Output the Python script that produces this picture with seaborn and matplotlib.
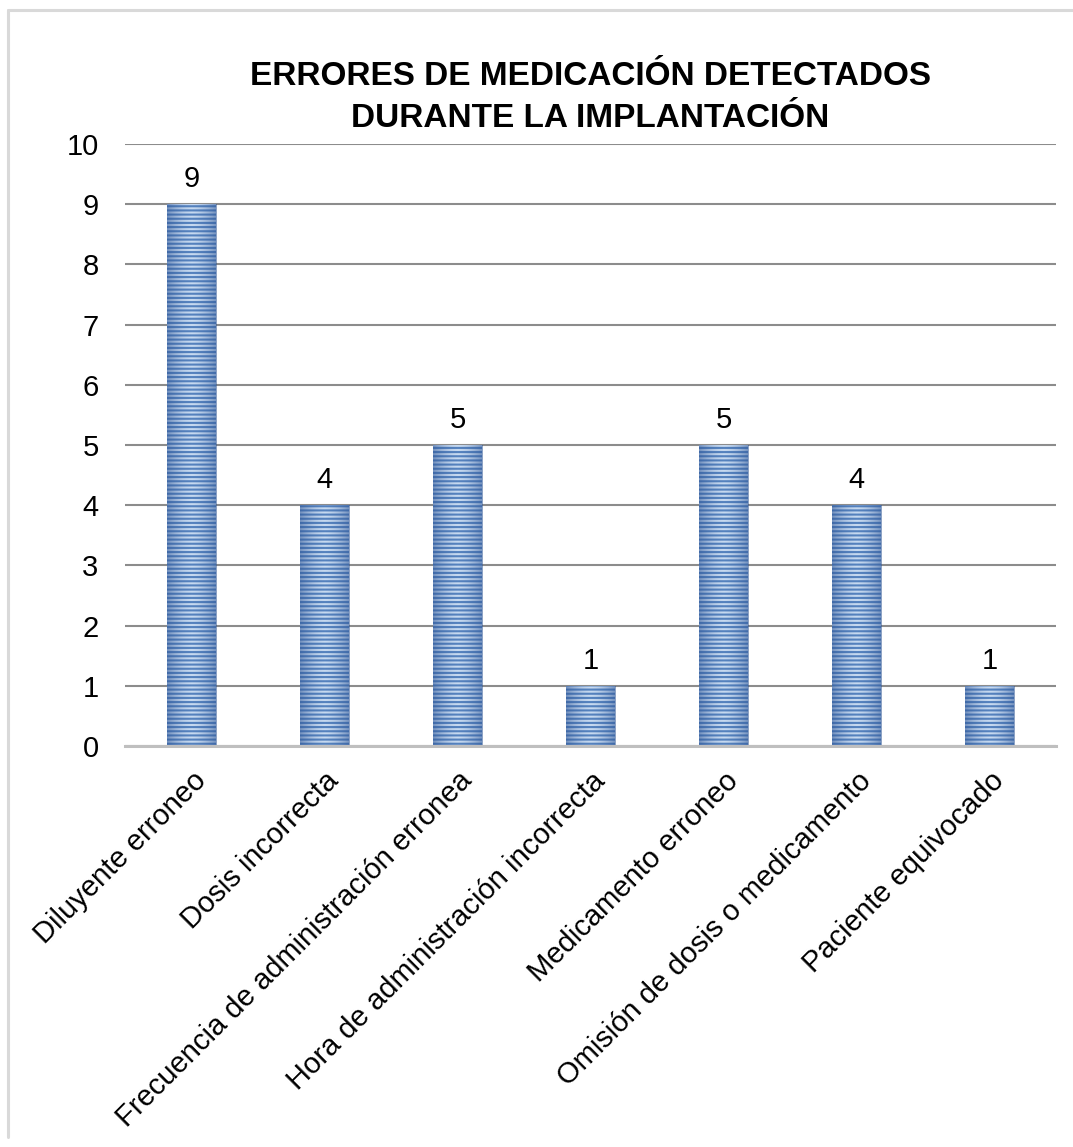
import numpy as np
import pandas as pd
import matplotlib
matplotlib.use("Agg")
import matplotlib.pyplot as plt
import matplotlib.transforms as mtransforms
from matplotlib.lines import Line2D
import seaborn as sns

categories = [
    "Diluyente erroneo",
    "Dosis incorrecta",
    "Frecuencia de administración erronea",
    "Hora de administración incorrecta",
    "Medicamento erroneo",
    "Omisión de dosis o medicamento",
    "Paciente equivocado",
]
values = [9, 4, 5, 1, 5, 4, 1]
title_line1 = "ERRORES DE MEDICACIÓN DETECTADOS"
title_line2 = "DURANTE LA IMPLANTACIÓN"
yticks = list(range(0, 11))

df = pd.DataFrame({"cat": categories, "n": values})

sns.set_theme(style="white")
plt.rcParams["font.family"] = ["Liberation Sans", "DejaVu Sans"]
plt.rcParams["text.color"] = "black"
plt.rcParams["hatch.linewidth"] = 1.5

FS = 21

W, H = 1073, 1147
fig = plt.figure(figsize=(W / 100, H / 100), dpi=100)
fig.patch.set_facecolor("white")
ax = fig.add_axes([125 / W, 1 - 746 / H, (1056 - 125) / W, (746 - 144) / H])

sns.barplot(data=df, x="cat", y="n", ax=ax, width=0.375,
            color="#C6D9F0", saturation=1, edgecolor="#5582BE",
            linewidth=0, hatch="----", errorbar=None, zorder=3)

# horizontal gradient shading on each bar (darker edges)
grad = np.linspace(-1, 1, 64)
alpha = 0.55 * np.abs(grad) ** 1.6
rgba = np.zeros((1, 64, 4))
rgba[..., 0] = 0x2E / 255
rgba[..., 1] = 0x55 / 255
rgba[..., 2] = 0x95 / 255
rgba[..., 3] = alpha
for p in ax.patches:
    x0, y0 = p.get_x(), p.get_y()
    w, h = p.get_width(), p.get_height()
    im = ax.imshow(rgba, extent=(x0, x0 + w, y0, y0 + h), aspect="auto",
                   interpolation="bilinear", zorder=4)
    im.set_clip_path(p)

ax.bar_label(ax.containers[0], labels=[str(v) for v in values],
             padding=8, fontsize=FS, color="black")

ax.set_ylim(0, 10)
ax.set_xlim(-0.5, len(categories) - 0.5)
ax.set_yticks(yticks)
ax.set_yticklabels([str(t) for t in yticks], fontsize=FS)
ax.yaxis.grid(True, color="#8C8C8C", linewidth=1.5, zorder=0)
ax.xaxis.grid(False)
ax.set_axisbelow(True)
ax.tick_params(axis="y", length=0, pad=19, labelcolor="black")
ax.tick_params(axis="x", length=0, pad=22, labelcolor="black")
ax.set_xlabel("")
ax.set_ylabel("")
for s in ["left", "right", "top"]:
    ax.spines[s].set_visible(False)
ax.spines["bottom"].set_color("#BFBFBF")
ax.spines["bottom"].set_linewidth(2.2)
ax.spines["bottom"].set_zorder(5)

offset = mtransforms.ScaledTranslation(10 / 100, 0, fig.dpi_scale_trans)
for lab in ax.get_xticklabels():
    lab.set_rotation(45)
    lab.set_ha("right")
    lab.set_va("center")
    lab.set_rotation_mode("anchor")
    lab.set_fontsize(FS)
    lab.set_color("black")
    lab.set_transform(lab.get_transform() + offset)

cx = (125 + 1056) / 2 / W
fig.text(cx, 1 - 85 / H, title_line1, ha="center", va="baseline",
         fontsize=24, fontweight="bold", color="black")
fig.text(cx, 1 - 127 / H, title_line2, ha="center", va="baseline",
         fontsize=24, fontweight="bold", color="black")

# outer frame (top and left edges visible)
fig.add_artist(Line2D([8 / W, 1.0], [1 - 10 / H, 1 - 10 / H],
                      transform=fig.transFigure, color="#D9D9D9", linewidth=2.2))
fig.add_artist(Line2D([8 / W, 8 / W], [1 - 10 / H, 1 - 1137 / H],
                      transform=fig.transFigure, color="#D9D9D9", linewidth=2.2))

fig.savefig("out.png", dpi=100, facecolor="white")
